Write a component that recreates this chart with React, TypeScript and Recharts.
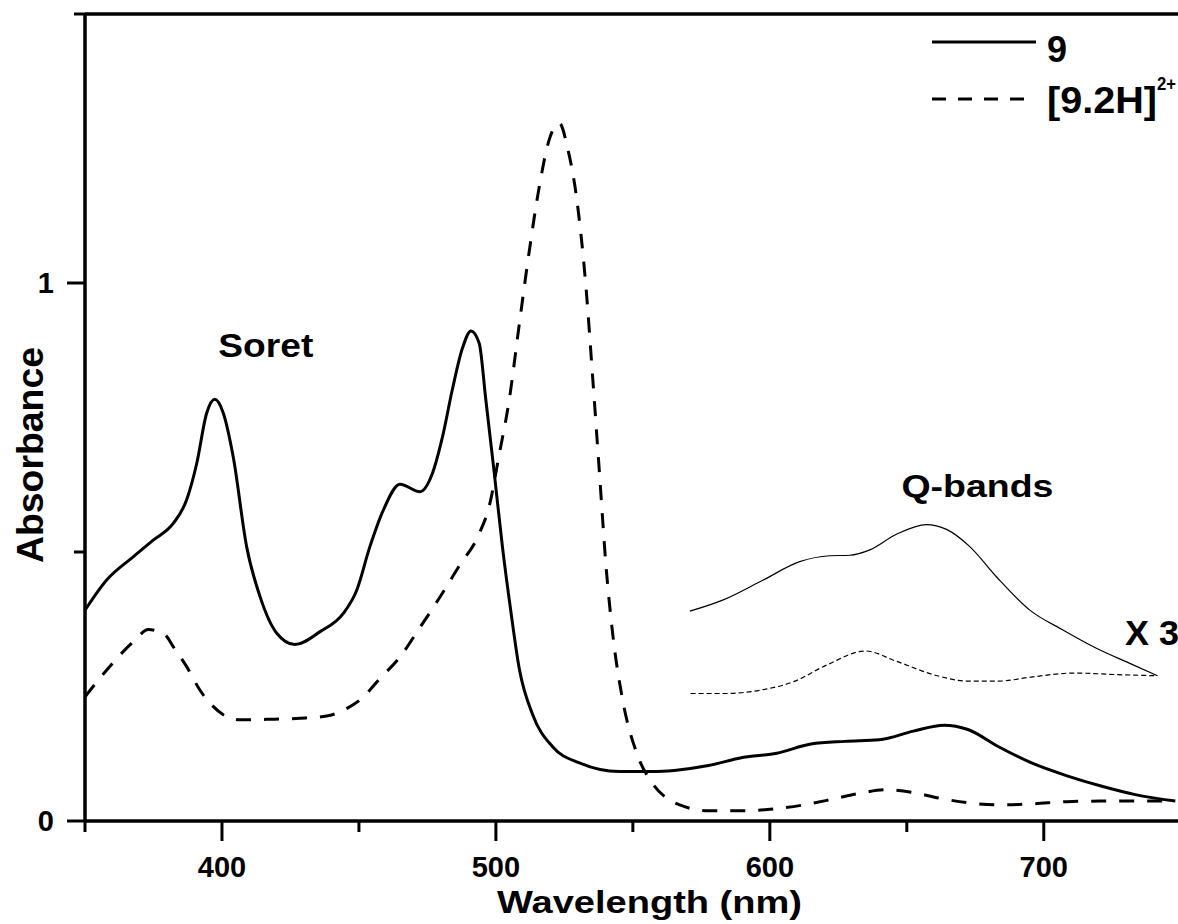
import React from 'react';
import { ComposedChart, Line, Scatter, XAxis, YAxis, ReferenceLine, Legend } from 'recharts';

const FONT = '"Liberation Sans", Arial, Helvetica, sans-serif';

// ---- axis ticks ----
const xTicks = [350, 400, 450, 500, 550, 600, 650, 700];
const xMajorTicks = [400, 500, 600, 700];
const yTicks = [0, 0.5, 1, 1.5];
const yMajorTicks = [0, 1];

// ---- series: compound 9 (thick solid) ----
const wl9 = [350, 357.9, 367.6, 374.9, 382.2, 387.1, 390.8, 394.4, 397.4, 400.5, 404.1, 409, 413.9, 420, 426.6, 435.8, 444.3, 449.2, 454, 458.9, 465, 472.3, 476.6, 480.5, 484.1, 487.8, 490.9, 493.9, 496.3, 499.4, 502.4, 505.5, 508.5, 513.4, 520.7, 530.5, 545.1, 557.3, 565.1, 577.6, 590, 602.5, 615, 627.4, 639.9, 652.4, 663.6, 672.3, 683.5, 696, 708.5, 720.9, 733.4, 748];
const abs9 = [0.392, 0.448, 0.491, 0.522, 0.553, 0.597, 0.665, 0.758, 0.784, 0.758, 0.677, 0.51, 0.417, 0.349, 0.328, 0.352, 0.386, 0.429, 0.51, 0.578, 0.626, 0.612, 0.643, 0.714, 0.802, 0.879, 0.911, 0.888, 0.784, 0.647, 0.509, 0.388, 0.284, 0.198, 0.138, 0.108, 0.092, 0.092, 0.094, 0.103, 0.118, 0.126, 0.143, 0.148, 0.151, 0.167, 0.178, 0.17, 0.138, 0.107, 0.084, 0.065, 0.049, 0.037];

// ---- series: [9.2H]2+ (thick dashed) ----
const wl9H = [350, 358.5, 368.2, 373.1, 379.2, 382.2, 387.1, 392, 396.2, 401.7, 406.6, 416.3, 428.5, 438.2, 445.5, 450.4, 457.7, 465, 472.3, 479.3, 486.6, 493.9, 497.6, 501.2, 504.9, 508.5, 512.2, 515.9, 519.5, 523.2, 526.2, 529.3, 532.9, 535.4, 537.8, 540.2, 542.7, 546.3, 551.2, 557.3, 563, 567.1, 577.6, 590, 602.5, 612.5, 622.4, 632.4, 642.4, 652.4, 662.3, 672.3, 683.5, 696, 708.5, 720.9, 748];
const abs9H = [0.231, 0.284, 0.336, 0.356, 0.346, 0.324, 0.287, 0.243, 0.216, 0.194, 0.188, 0.189, 0.191, 0.195, 0.209, 0.225, 0.265, 0.305, 0.36, 0.414, 0.474, 0.534, 0.586, 0.681, 0.784, 0.922, 1.06, 1.181, 1.267, 1.297, 1.25, 1.164, 0.991, 0.819, 0.647, 0.474, 0.345, 0.224, 0.129, 0.069, 0.04, 0.03, 0.019, 0.019, 0.023, 0.03, 0.04, 0.051, 0.058, 0.053, 0.042, 0.034, 0.03, 0.032, 0.036, 0.037, 0.037];

// ---- Q-band region x3 (thin) ----
const wlQ9 = [570.8, 583, 597.6, 610.9, 621.9, 629.2, 636.5, 646.2, 657.2, 664.5, 673, 682.7, 694.9, 707, 719.2, 731.4, 741.5];
const absQ9 = [0.39, 0.411, 0.448, 0.482, 0.493, 0.494, 0.504, 0.533, 0.551, 0.542, 0.51, 0.454, 0.392, 0.355, 0.321, 0.293, 0.27];
const wlQ9H = [571.1, 583.8, 596.3, 608.7, 621.2, 634.9, 646.1, 661.1, 672.3, 683.5, 696, 711, 727.2, 741.5];
const absQ9H = [0.237, 0.237, 0.243, 0.259, 0.291, 0.316, 0.297, 0.27, 0.26, 0.26, 0.268, 0.275, 0.272, 0.27];

// ---- annotations ----
const annoText = ['Soret', 'Q-bands', 'X 3'];
const annoX = [416, 675.8, 739.5];
const annoY = [0.8625, 0.603, 0.327];

const seriesNames = ['9', '[9.2H]'];
const seriesSup = ['', '2+'];

const toPoints = (xs: number[], ys: number[]) => xs.map((x, i) => ({ x, y: ys[i] }));
const data9 = toPoints(wl9, abs9);
const data9H = toPoints(wl9H, abs9H);
const dataQ9 = toPoints(wlQ9, absQ9);
const dataQ9H = toPoints(wlQ9H, absQ9H);
const annotations = annoText.map((text, i) => ({ x: annoX[i], y: annoY[i], text }));

const annoStyle: Record<string, { fontSize: number; len: number }> = {
  Soret: { fontSize: 34, len: 95 },
  'Q-bands': { fontSize: 31, len: 152 },
  'X 3': { fontSize: 35, len: 54 },
};

const XTick = (props: any) => {
  const { x, y, payload } = props;
  const major = xMajorTicks.includes(payload.value);
  return (
    <g>
      <line x1={x} x2={x} y1={y} y2={y + (major ? 20 : 11)} stroke="#000" strokeWidth={3} />
      {major && (
        <text x={x} y={y + 56} textAnchor="middle" fontFamily={FONT} fontWeight="bold" fontSize={29} fill="#000">
          {payload.value}
        </text>
      )}
    </g>
  );
};

const YTick = (props: any) => {
  const { x, y, payload } = props;
  const major = yMajorTicks.includes(payload.value);
  return (
    <g>
      <line x1={x} x2={x - (major ? 18 : 11)} y1={y} y2={y} stroke="#000" strokeWidth={3} />
      {major && (
        <text x={x - 31} y={y + 10} textAnchor="end" fontFamily={FONT} fontWeight="bold" fontSize={29} fill="#000">
          {payload.value}
        </text>
      )}
    </g>
  );
};

const AnnoShape = (props: any) => {
  const { cx, cy, payload } = props;
  const st = annoStyle[payload.text];
  return (
    <text x={cx} y={cy} textAnchor="middle" fontFamily={FONT} fontWeight="bold" fontSize={st.fontSize} textLength={st.len} lengthAdjust="spacingAndGlyphs" fill="#000">
      {payload.text}
    </text>
  );
};

const LegendContent = () => (
  <svg width={253} height={120} style={{ display: 'block' }}>
    <line x1={7} x2={111} y1={28} y2={28} stroke="#000" strokeWidth={3} />
    <text x={122} y={48} fontFamily={FONT} fontWeight="bold" fontSize={36} fill="#000">{seriesNames[0]}</text>
    <line x1={7} x2={101} y1={85} y2={85} stroke="#000" strokeWidth={3} strokeDasharray="14 12" />
    <text x={122} y={99} fontFamily={FONT} fontWeight="bold" fontSize={36} fill="#000" textLength={110} lengthAdjust="spacingAndGlyphs">{seriesNames[1]}</text>
    <text x={232} y={76} fontFamily={FONT} fontWeight="bold" fontSize={18} fill="#000" textLength={19} lengthAdjust="spacingAndGlyphs">{seriesSup[1]}</text>
  </svg>
);

export default function App() {
  return (
    <div style={{ position: 'absolute', left: 0, top: 0, width: 1178, height: 924, background: '#fff' }}>
      <ComposedChart width={1178} height={924} margin={{ top: 14, right: 0, bottom: 0, left: 0 }}>
        <XAxis
          dataKey="x"
          type="number"
          domain={[350, 749]}
          allowDataOverflow
          ticks={xTicks}
          interval={0}
          tickLine={false}
          tickSize={0}
          tickMargin={0}
          tick={<XTick />}
          height={103}
          axisLine={{ stroke: '#000', strokeWidth: 3.5 }}
          label={{
            content: () => (
              <text x={649.5} y={913} textAnchor="middle" fontFamily={FONT} fontWeight="bold" fontSize={31} textLength={305} lengthAdjust="spacingAndGlyphs" fill="#000">
                Wavelength (nm)
              </text>
            ),
          }}
        />
        <YAxis
          type="number"
          domain={[0, 1.5]}
          allowDataOverflow
          ticks={yTicks}
          interval={0}
          tickLine={false}
          tickSize={0}
          tickMargin={0}
          tick={<YTick />}
          width={85}
          axisLine={{ stroke: '#000', strokeWidth: 3.5 }}
          label={{
            content: () => (
              <text x={43} y={455} transform="rotate(-90, 43, 455)" textAnchor="middle" fontFamily={FONT} fontWeight="bold" fontSize={37} textLength={216} lengthAdjust="spacingAndGlyphs" fill="#000">
                Absorbance
              </text>
            ),
          }}
        />
        <ReferenceLine y={1.5} stroke="#000" strokeWidth={3.5} />
        <Line data={data9} dataKey="y" name={seriesNames[0]} type="monotone" stroke="#000" strokeWidth={3} dot={false} activeDot={false} isAnimationActive={false} />
        <Line data={data9H} dataKey="y" name={seriesNames[1]} type="monotone" stroke="#000" strokeWidth={3} strokeDasharray="15 13" dot={false} activeDot={false} isAnimationActive={false} />
        <Line data={dataQ9} dataKey="y" name="9 x3" type="monotone" stroke="#000" strokeWidth={1.2} dot={false} activeDot={false} legendType="none" isAnimationActive={false} />
        <Line data={dataQ9H} dataKey="y" name="[9.2H] x3" type="monotone" stroke="#000" strokeWidth={1.2} strokeDasharray="5 3" dot={false} activeDot={false} legendType="none" isAnimationActive={false} />
        <Scatter data={annotations} dataKey="y" shape={AnnoShape} legendType="none" isAnimationActive={false} />
        <Legend
          layout="horizontal"
          verticalAlign="middle"
          align="center"
          wrapperStyle={{ position: 'absolute', left: 925, top: 14, width: 253, height: 120 }}
          content={LegendContent}
        />
      </ComposedChart>
    </div>
  );
}
